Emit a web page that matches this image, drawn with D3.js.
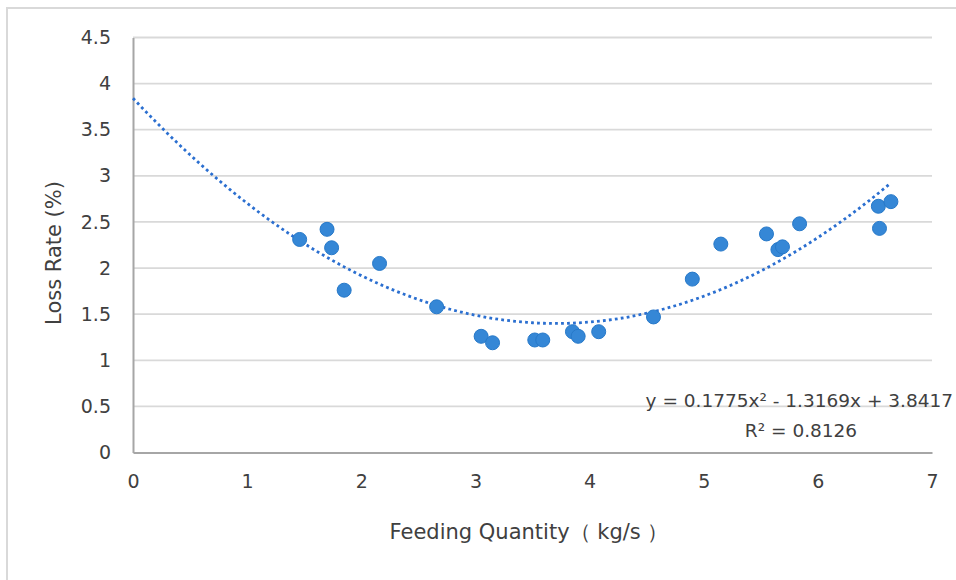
<!DOCTYPE html>
<html>
<head>
<meta charset="utf-8">
<script src="https://cdn.jsdelivr.net/npm/d3@7/dist/d3.min.js"></script>
<style>
  body { margin: 0; background: #fff; }
  svg { display: block; font-family: "DejaVu Sans", sans-serif; }
</style>
</head>
<body>
<svg width="956" height="580"></svg>
<script>
// feeding quantity (kg/s) and loss rate (%)
var feedQty = [1.46, 1.70, 1.74, 1.85, 2.16, 2.66, 3.05, 3.15, 3.52, 3.59, 3.85, 3.90, 4.08,
               4.56, 4.90, 5.15, 5.55, 5.65, 5.69, 5.84, 6.53, 6.54, 6.64];
var lossRate = [2.31, 2.42, 2.22, 1.76, 2.05, 1.58, 1.26, 1.19, 1.22, 1.22, 1.31, 1.26, 1.31,
                1.47, 1.88, 2.26, 2.37, 2.20, 2.23, 2.48, 2.67, 2.43, 2.72];
var xTicks = [0, 1, 2, 3, 4, 5, 6, 7];
var yTicks = [0, 0.5, 1, 1.5, 2, 2.5, 3, 3.5, 4, 4.5];
var trendCoef = [0.1775, -1.3169, 3.8417];   // a, b, c
var eqLabel = "y = 0.1775x² - 1.3169x + 3.8417";
var r2Label = "R² = 0.8126";

var svg = d3.select("svg");
var margin = {left: 133, right: 956 - 932, top: 37.5, bottom: 580 - 452.5};
var width = 956 - margin.left - margin.right,
    height = 580 - margin.top - margin.bottom;

// outer chart border (runs off the right/bottom of the window)
svg.append("rect")
    .attr("x", 7).attr("y", 8)
    .attr("width", 980).attr("height", 600)
    .attr("fill", "none")
    .attr("stroke", "#d9d9d9")
    .attr("stroke-width", 2);

var x = d3.scaleLinear().domain([0, 7]).range([0, width]);
var y = d3.scaleLinear().domain([0, 4.5]).range([height, 0]);

var g = svg.append("g").attr("transform", "translate(" + margin.left + "," + margin.top + ")");

// horizontal gridlines
g.append("g")
  .selectAll("line")
  .data(yTicks.filter(d => d > 0))
  .enter().append("line")
    .attr("x1", 0).attr("x2", width)
    .attr("y1", d => y(d)).attr("y2", d => y(d))
    .attr("stroke", "#d9d9d9")
    .attr("stroke-width", 1.8);

// axes
var xAxis = g.append("g")
    .attr("transform", "translate(0," + height + ")")
    .call(d3.axisBottom(x).tickValues(xTicks).tickSize(0).tickPadding(22).tickFormat(d3.format("d")));
var yAxis = g.append("g")
    .call(d3.axisLeft(y).tickValues(yTicks).tickSize(0).tickPadding(22).tickFormat(d => d));

[xAxis, yAxis].forEach(function(a) {
  a.select(".domain").attr("stroke", "#a6a6a6").attr("stroke-width", 2);
  a.selectAll("text")
      .attr("font-family", "DejaVu Sans, sans-serif")
      .attr("font-size", 19)
      .attr("fill", "#404040");
});

// polynomial trendline
var xMax = d3.max(feedQty);
var trendXs = d3.range(0, xMax, 0.05).concat([xMax]);
var poly = v => trendCoef[0] * v * v + trendCoef[1] * v + trendCoef[2];
g.append("path")
    .datum(trendXs)
    .attr("fill", "none")
    .attr("stroke", "#2b6fd0")
    .attr("stroke-width", 2.8)
    .attr("stroke-dasharray", "2.8,3.2")
    .attr("d", d3.line().x(d => x(d)).y(d => y(poly(d))));

// points
g.append("g")
  .selectAll("circle")
  .data(feedQty.map((d, i) => [d, lossRate[i]]))
  .enter().append("circle")
    .attr("cx", d => x(d[0]))
    .attr("cy", d => y(d[1]))
    .attr("r", 7)
    .attr("fill", "#3587d6")
    .attr("stroke", "#2779c9")
    .attr("stroke-width", 1);

// equation labels
svg.append("text")
    .attr("x", 953).attr("y", 407)
    .attr("text-anchor", "end")
    .attr("font-size", 18.5)
    .attr("fill", "#404040")
    .text(eqLabel);
svg.append("text")
    .attr("x", 801).attr("y", 437)
    .attr("text-anchor", "middle")
    .attr("font-size", 18.5)
    .attr("fill", "#404040")
    .text(r2Label);

// axis titles
svg.append("text")
    .attr("x", 529).attr("y", 539)
    .attr("text-anchor", "middle")
    .attr("font-size", 21)
    .attr("fill", "#404040")
    .text("Feeding Quantity（ kg/s ）");
svg.append("text")
    .attr("transform", "translate(61,253) rotate(-90)")
    .attr("text-anchor", "middle")
    .attr("font-size", 21)
    .attr("fill", "#404040")
    .text("Loss Rate (%)");
</script>
</body>
</html>
